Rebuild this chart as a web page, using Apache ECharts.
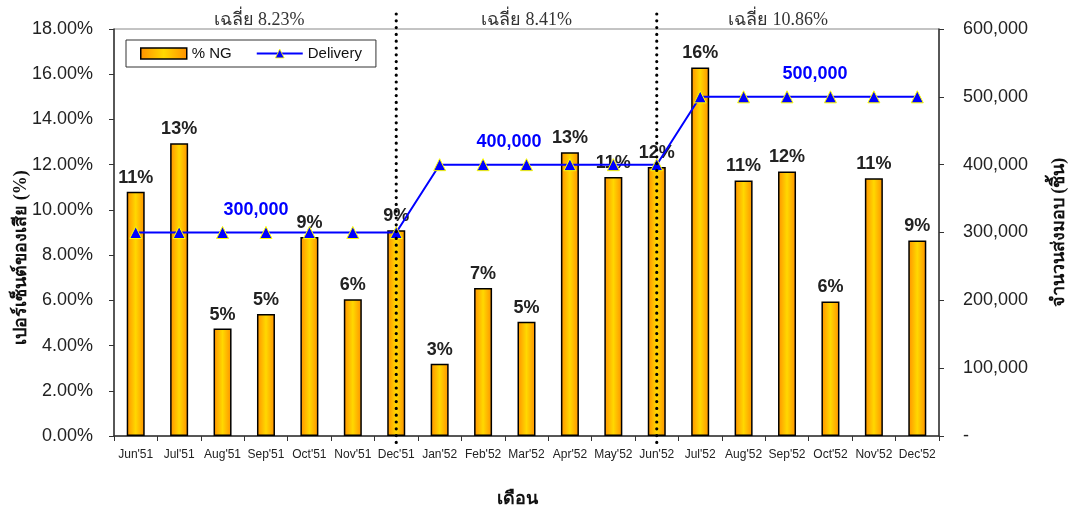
<!DOCTYPE html>
<html>
<head>
<meta charset="utf-8">
<script src="https://cdn.jsdelivr.net/npm/echarts@6/dist/echarts.min.js"></script>
<style>
  html, body { margin: 0; padding: 0; background: #fff; }
  #chart { width: 1074px; height: 512px; }
</style>
</head>
<body>
<div id="chart"></div>
<script>
// Monthly defect rate (% NG) and delivery volume, Jun'51 - Dec'52
const months = ["Jun'51", "Jul'51", "Aug'51", "Sep'51", "Oct'51", "Nov'51", "Dec'51",
  "Jan'52", "Feb'52", "Mar'52", "Apr'52", "May'52", "Jun'52",
  "Jul'52", "Aug'52", "Sep'52", "Oct'52", "Nov'52", "Dec'52"];
const ngPercent = [10.8, 12.95, 4.75, 5.4, 8.8, 6.05, 9.1,
  3.2, 6.55, 5.05, 12.55, 11.45, 11.9,
  16.3, 11.3, 11.7, 5.95, 11.4, 8.65];
const delivery = [300000, 300000, 300000, 300000, 300000, 300000, 300000,
  400000, 400000, 400000, 400000, 400000, 400000,
  500000, 500000, 500000, 500000, 500000, 500000];
// Period averages: [first month, last month, text]
const periods = [
  ["Jun'51", "Dec'51", "เฉลี่ย 8.23%"],
  ["Dec'51", "Jun'52", "เฉลี่ย 8.41%"],
  ["Jun'52", "Dec'52", "เฉลี่ย 10.86%"]
];
const dividers = ["Dec'51", "Jun'52"];
// Delivery level labels: month carrying the label and its sideways shift
const levelLabels = [["Sep'51", -10], ["Feb'52", 26], ["Sep'52", 28]];
const pctTicks = { min: 0, max: 18, interval: 2 };
const qtyTicks = { min: 0, max: 600000, interval: 100000 };

const sansFont = "Arial, 'Liberation Sans', 'DejaVu Sans', sans-serif";
const thaiFont = "'Liberation Serif', 'DejaVu Serif', 'Noto Sans', serif";

const barFill = new echarts.graphic.LinearGradient(0, 0, 1, 0, [
  { offset: 0, color: '#FF9000' },
  { offset: 0.5, color: '#FFD800' },
  { offset: 1, color: '#FF9000' }
]);

const deliveryData = delivery.map((v, i) => {
  const hit = levelLabels.find(l => l[0] === months[i]);
  if (!hit) return v;
  return {
    value: v,
    label: {
      show: true, position: 'top', distance: 7, offset: [hit[1], 0],
      color: '#0000FF', fontWeight: 'bold', fontSize: 18, fontFamily: sansFont,
      formatter: p => p.value.toLocaleString('en-US')
    }
  };
});

const chart = echarts.init(document.getElementById('chart'), null, { renderer: 'canvas' });

chart.setOption({
  animation: false,
  backgroundColor: '#fff',
  grid: {
    left: 114, right: 135, top: 29, bottom: 76,
    outerBoundsMode: 'none', containLabel: false,
    show: true, borderColor: '#888', borderWidth: 1
  },
  legend: {
    left: 126, top: 40,
    padding: [6, 14, 6, 14], itemGap: 24,
    borderColor: '#333', borderWidth: 1,
    textStyle: { fontSize: 15, color: '#111', fontFamily: sansFont },
    data: [
      { name: '% NG', icon: 'rect', itemStyle: { color: barFill, borderColor: '#000', borderWidth: 1.5 } },
      { name: 'Delivery', itemStyle: { color: '#0000FF', borderColor: '#FFFF00', borderWidth: 0.8 } }
    ],
    itemWidth: 46, itemHeight: 11
  },
  xAxis: {
    type: 'category',
    data: months,
    name: 'เดือน',
    nameLocation: 'middle',
    nameGap: 54,
    nameMoveOverlap: false,
    nameTextStyle: { fontSize: 18, fontWeight: 'bold', color: '#111', fontFamily: thaiFont,
      padding: [0, 18, 0, 0] },
    axisLine: { lineStyle: { color: '#333', width: 1.5 } },
    axisTick: { show: true, alignWithLabel: false, length: 5, lineStyle: { color: '#333' } },
    axisLabel: { interval: 0, fontSize: 12, color: '#222', margin: 13, fontFamily: sansFont }
  },
  yAxis: [
    {
      type: 'value', ...pctTicks,
      name: 'เปอร์เซ็นต์ของเสีย (%)',
      nameLocation: 'middle', nameGap: 84,
      nameMoveOverlap: false,
      nameTextStyle: { fontSize: 18, fontWeight: 'bold', color: '#111', fontFamily: thaiFont,
        padding: [0, 50, 0, 0] },
      axisLine: { show: true, lineStyle: { color: '#333', width: 1.5 } },
      axisTick: { show: true, length: 5, lineStyle: { color: '#333' } },
      splitLine: { show: false },
      axisLabel: { fontSize: 18, color: '#222', margin: 21, fontFamily: sansFont,
        formatter: v => v.toFixed(2) + '%' }
    },
    {
      type: 'value', ...qtyTicks,
      name: 'จำนวนส่งมอบ (ชิ้น)',
      nameLocation: 'middle', nameGap: 111,
      nameTextStyle: { fontSize: 18, fontWeight: 'bold', color: '#111', fontFamily: thaiFont },
      axisLine: { show: true, lineStyle: { color: '#333', width: 1.5 } },
      axisTick: { show: true, length: 5, lineStyle: { color: '#333' } },
      splitLine: { show: false },
      axisLabel: { fontSize: 18, color: '#222', margin: 24, fontFamily: sansFont,
        formatter: v => v === 0 ? '-' : v.toLocaleString('en-US') }
    }
  ],
  series: [
    {
      name: '% NG',
      type: 'bar',
      yAxisIndex: 0,
      data: ngPercent,
      barWidth: 18,
      itemStyle: { color: barFill, borderColor: '#000', borderWidth: 1.5 },
      label: {
        show: true, position: 'top', distance: 5,
        fontSize: 18, fontWeight: 'bold', color: '#222', fontFamily: sansFont,
        formatter: p => Math.round(p.value) + '%'
      },
      z: 2
    },
    {
      name: 'Delivery',
      type: 'line',
      yAxisIndex: 1,
      data: deliveryData,
      symbol: 'triangle',
      symbolSize: 12,
      lineStyle: { color: '#0000FF', width: 2 },
      itemStyle: { color: '#0000FF', borderColor: '#FFFF00', borderWidth: 1 },
      z: 4
    }
  ]
});

// Period dividers and average captions, placed from the category axis
function drawOverlays() {
  const x = m => chart.convertToPixel({ xAxisIndex: 0 }, m);
  const yTop = chart.convertToPixel({ yAxisIndex: 0 }, pctTicks.max);
  const yBottom = chart.convertToPixel({ yAxisIndex: 0 }, pctTicks.min);
  const step = x(months[1]) - x(months[0]);
  const gridLeft = x(months[0]) - step / 2;
  const gridRight = x(months[months.length - 1]) + step / 2;
  const shifts = [4, 0, -20];
  const elements = [];
  dividers.forEach(m => {
    const px = x(m);
    elements.push({
      type: 'line', z: 10,
      shape: { x1: px, y1: yTop - 15, x2: px, y2: yBottom + 10 },
      style: { stroke: '#000', lineWidth: 3.2, lineDash: [0, 6.8], lineCap: 'round' }
    });
  });
  periods.forEach((p, i) => {
    const a = i === 0 ? gridLeft : x(p[0]);
    const b = i === periods.length - 1 ? gridRight : x(p[1]);
    elements.push({
      type: 'text', z: 10,
      style: {
        x: (a + b) / 2 + shifts[i], y: yTop - 9,
        text: p[2], fill: '#333', fontSize: 18, fontFamily: thaiFont,
        align: 'center', verticalAlign: 'middle'
      }
    });
  });
  chart.setOption({ graphic: elements });
}
drawOverlays();
</script>
</body>
</html>
